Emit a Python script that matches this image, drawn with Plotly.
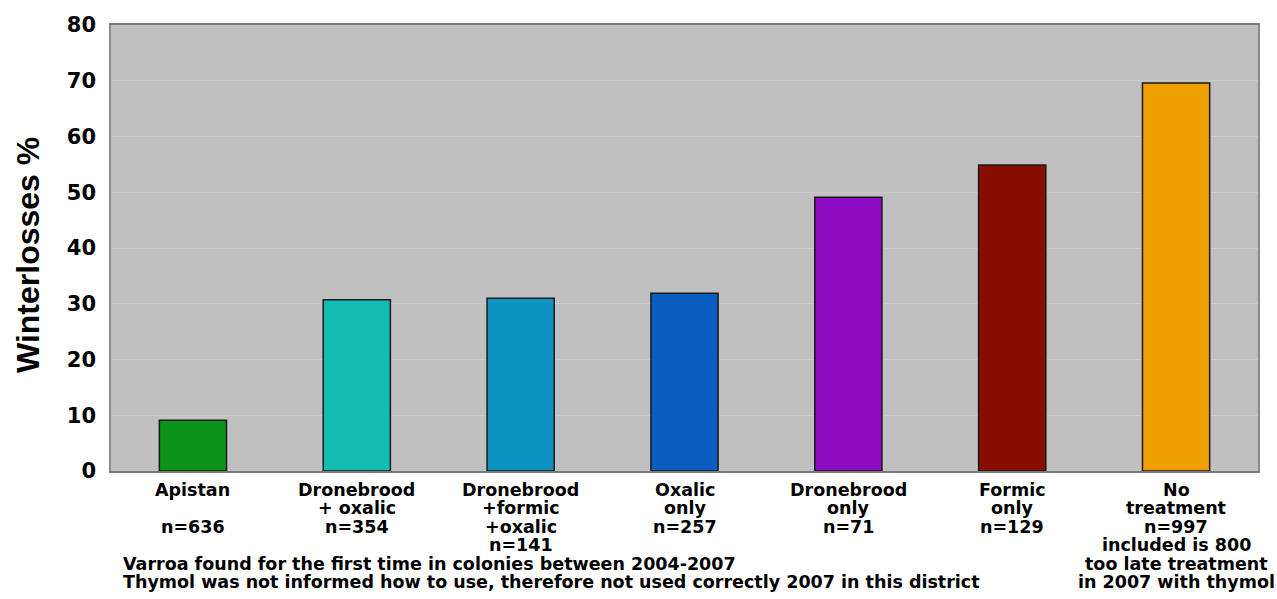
import plotly.graph_objects as go

# Winter losses by varroa treatment
categories = ["Apistan", "Dronebrood + oxalic", "Dronebrood +formic +oxalic",
              "Oxalic only", "Dronebrood only", "Formic only", "No treatment"]
label_lines = [
    ["Apistan", "", "n=636"],
    ["Dronebrood", "+ oxalic", "n=354"],
    ["Dronebrood", "+formic", "+oxalic", "n=141"],
    ["Oxalic", "only", "n=257"],
    ["Dronebrood", "only", "n=71"],
    ["Formic", "only", "n=129"],
    ["No", "treatment", "n=997", "included is 800", "too late treatment", "in 2007 with thymol"],
]
losses = [9.1, 30.7, 31.0, 31.9, 49.1, 54.9, 69.6]
bar_colors = ["#0a9418", "#13bcb0", "#0c93c2", "#0b5ebf", "#8c0bc0", "#8a0e00", "#f0a000"]
y_ticks = [0, 10, 20, 30, 40, 50, 60, 70, 80]
y_title = "Winterlosses %"
footnotes = [
    "Varroa found for the first time in colonies between 2004-2007",
    "Thymol was not informed how to use, therefore not used correctly 2007 in this district",
]

LABEL_FONT = dict(family="DejaVu Sans, Verdana, sans-serif", size=17.5, color="#000000")
LINE_STEP = 18.4
FIRST_LINE = 19

fig = go.Figure()
fig.add_trace(go.Bar(
    x=categories,
    y=losses,
    width=0.41,
    marker=dict(color=bar_colors, line=dict(color="#1a1a1a", width=1.5)),
    hoverinfo="x+y",
))

annotations = []
for cat, lines in zip(categories, label_lines):
    for j, line in enumerate(lines):
        if not line:
            continue
        annotations.append(dict(
            x=cat, xref="x", y=0, yref="paper",
            text="<b>%s</b>" % line, showarrow=False,
            xanchor="center", yanchor="middle",
            yshift=-(FIRST_LINE + j * LINE_STEP),
            font=LABEL_FONT,
        ))

for j, note in enumerate(footnotes):
    annotations.append(dict(
        x=0.0087, xref="paper", y=0, yref="paper",
        text="<b>%s</b>" % note, showarrow=False,
        xanchor="left", yanchor="middle",
        yshift=-(FIRST_LINE + (4 + j) * LINE_STEP),
        font=LABEL_FONT,
    ))

# rotated axis title
annotations.append(dict(
    x=0, xref="paper", y=0.5, yref="paper",
    text="<b>%s</b>" % y_title, showarrow=False, textangle=-90,
    xanchor="center", yanchor="middle",
    xshift=-83, yshift=-7,
    font=dict(family="Liberation Sans Narrow, Arial Narrow, sans-serif", size=32, color="#000000"),
))

fig.update_layout(
    width=1277, height=599,
    margin=dict(l=111, r=19, t=25, b=128),
    paper_bgcolor="#ffffff",
    plot_bgcolor="#c0c0c0",
    showlegend=False,
    annotations=annotations,
    xaxis=dict(
        range=[-0.5, 6.5],
        showticklabels=False,
        showgrid=False,
        showline=True, linecolor="#7a7a7a", linewidth=1.5,
        mirror=True,
        ticks="",
        fixedrange=True,
    ),
    yaxis=dict(
        range=[0, 80],
        tickvals=y_ticks,
        ticktext=["<b>%d</b>" % v for v in y_ticks],
        tickfont=dict(family="DejaVu Sans, Verdana, sans-serif", size=21, color="#000000"),
        ticks="outside", ticklen=9, tickcolor="rgba(0,0,0,0)",
        showgrid=True, gridcolor="#cbcbcb", gridwidth=1,
        showline=True, linecolor="#8a8a8a", linewidth=1.5,
        mirror=True,
        zeroline=False,
        fixedrange=True,
    ),
)

fig.write_html("out.html")
